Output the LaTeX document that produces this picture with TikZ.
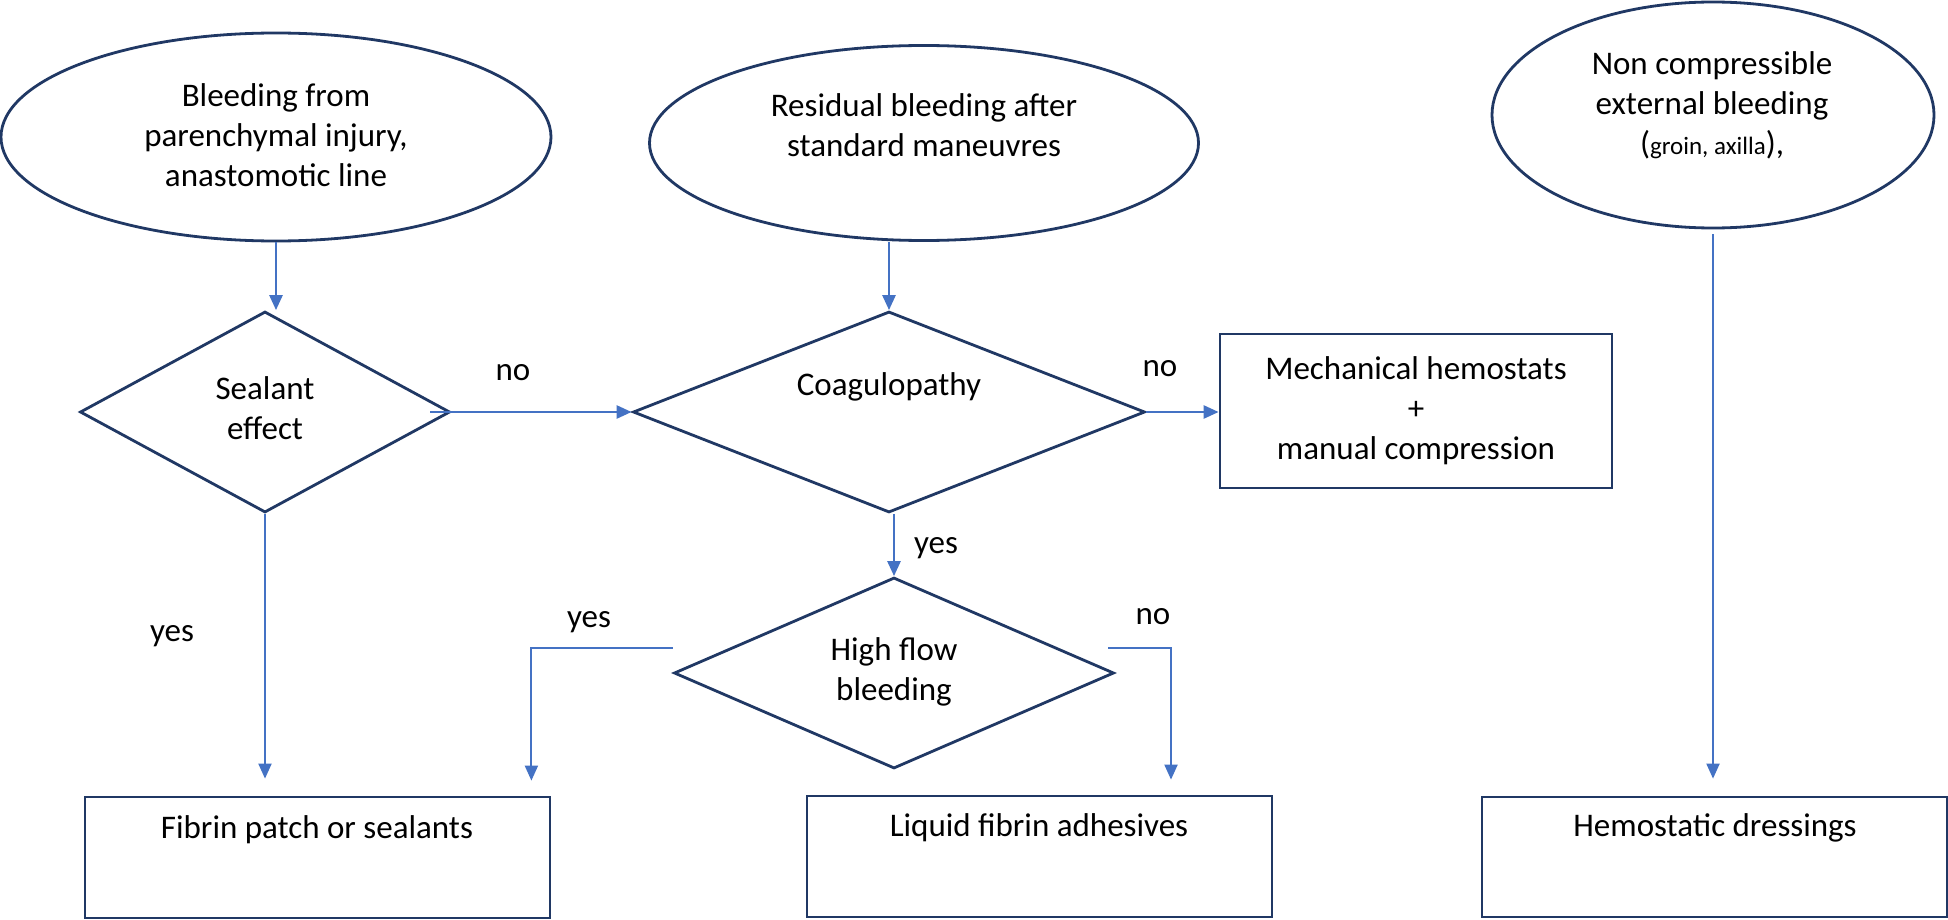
\documentclass[tikz,border=0pt]{standalone}
\usepackage{fontspec}
\setmainfont{Carlito}
\usetikzlibrary{shapes.geometric,arrows.meta}
\definecolor{navy}{RGB}{32,56,100}
\definecolor{conblue}{RGB}{68,114,196}
\begin{document}
\begin{tikzpicture}[x=0.5pt,y=-0.5pt,
  shapeline/.style={draw=navy,line width=1.4pt,inner sep=0pt,fill=white},
  oval/.style={shapeline,ellipse},
  decision/.style={shapeline,diamond},
  box/.style={shapeline,rectangle},
  txt/.style={font=\fontsize{16.5}{20}\selectfont,align=center,inner sep=0pt},
  conn/.style={draw=conblue,line width=1.3pt,-{Triangle[length=7.5pt,width=6.5pt]}},
  thinconn/.style={draw=conblue,line width=1pt,-{Triangle[length=7.5pt,width=6.5pt]}},
  plainconn/.style={draw=conblue,line width=1pt},
]
\fill[white] (0,0) rectangle (1948,920);
\useasboundingbox (0,0) rectangle (1948,920);

% start ovals
\node[oval,minimum width=275pt,minimum height=104pt] (e1) at (276,137) {};
\node[oval,minimum width=274.5pt,minimum height=97.5pt] (e2) at (924,143) {};
\node[oval,minimum width=221pt,minimum height=113pt] (e3) at (1713,115) {};
\node[txt] (t1) at (276,135) {Bleeding from\\parenchymal injury,\\anastomotic line};
\node[txt] (t2) at (924,125) {Residual bleeding after\\standard maneuvres};
\node[txt] (t3) at (1712,105) {Non compressible\\external bleeding\\({\fontsize{12.5}{20}\selectfont groin, axilla}),};

% decisions
\node[decision,minimum width=185pt,minimum height=100.5pt] (d1) at (265,412) {};
\node[decision,minimum width=256pt,minimum height=100.5pt] (d2) at (889,412) {};
\node[decision,minimum width=220pt,minimum height=95.5pt] (d3) at (894,673) {};
\node[txt] (td1) at (265,408) {Sealant\\effect};
\node[txt] (td2) at (889,387) {Coagulopathy};
\node[txt] (td3) at (894,672) {High flow\\bleeding};

% boxes
\node[box,txt,draw=navy,line width=1.4pt,minimum width=196pt,minimum height=77pt] (mech) at (1416,411)
  {Mechanical hemostats\\+\\manual compression};
\node[box,minimum width=232.5pt,minimum height=60.5pt] (fib) at (317.5,857.5) {};
\node[box,minimum width=232.5pt,minimum height=60.5pt] (liq) at (1039.5,856.5) {};
\node[box,minimum width=232.5pt,minimum height=60pt] (hem) at (1714.5,857) {};
\node[txt] (tf) at (317,830) {Fibrin patch or sealants};
\node[txt] (tl) at (1039,828) {Liquid fibrin adhesives};
\node[txt] (th) at (1715,828) {Hemostatic dressings};

% connectors
\draw[conn] (e1.south) -- (e1.south |- d1.north);
\draw[conn] (d2.north |- e2.south) -- (d2.north);
\draw[conn] ([xshift=-10.5pt]d1.east) -- (d2.west);
\draw[conn] (d2.east) -- (d2.east -| mech.west);
\draw[conn] (d3.north |- d2.south) -- (d3.north);
\draw[thinconn,shorten >=8.5pt] (d1.south) -- (d1.south |- fib.north);
\draw[thinconn,shorten >=7.5pt] ([yshift=12.5pt]d3.west) -| ([xshift=-10pt]fib.north east);
\draw[thinconn,shorten >=7.5pt] ([xshift=-3.5pt,yshift=12.5pt]d3.east) -| ([xshift=65.75pt]liq.north);
\draw[thinconn,shorten >=8.5pt] ([yshift=-2.5pt]e3.south) -- (e3.south |- hem.north);

% labels
\node[txt] (l1) at (513,373) {no};
\node[txt] (l2) at (1160,369) {no};
\node[txt] (l3) at (936,548) {yes};
\node[txt] (l4) at (172,636) {yes};
\node[txt] (l5) at (589,622) {yes};
\node[txt] (l6) at (1153,617) {no};
\end{tikzpicture}
\end{document}
